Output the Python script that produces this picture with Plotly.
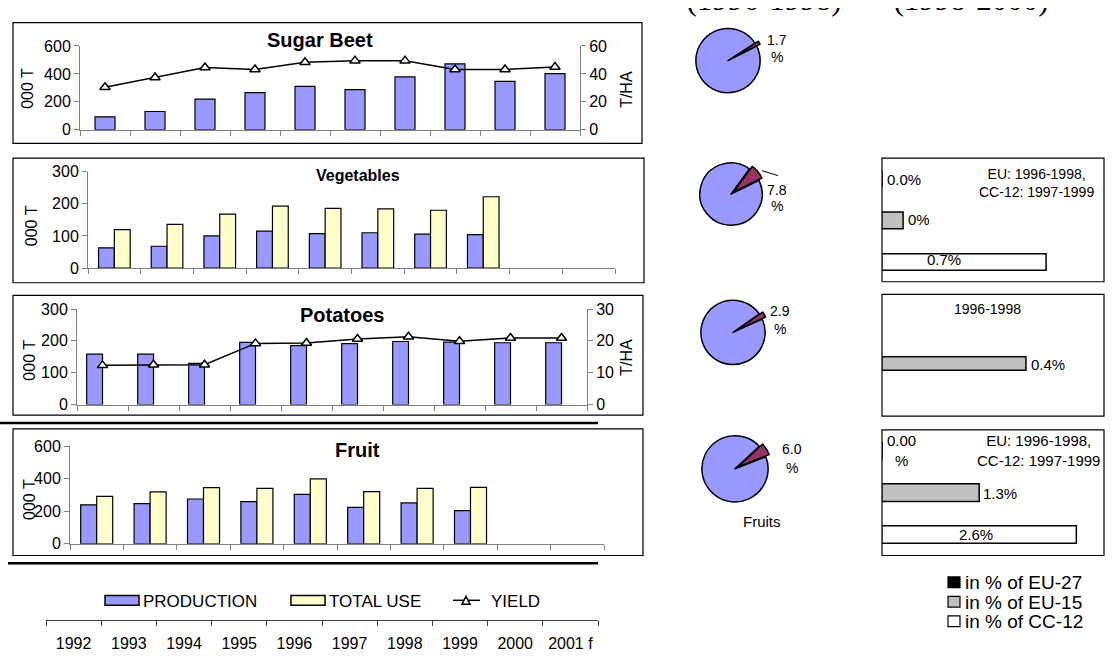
import plotly.graph_objects as go

W, H = 1116, 659
def fx(x): return x / W
def fy(y): return 1 - y / H

# ---------------- data ----------------
years = ["1992", "1993", "1994", "1995", "1996", "1997", "1998", "1999", "2000", "2001 f"]

sugar_prod = [93, 131, 220, 266, 311, 287, 379, 472, 346, 402]
sugar_yield = [30.4, 37.4, 44.6, 43.2, 48.4, 49.5, 49.5, 43.2, 43.2, 45.0]

veg_prod = [63, 68, 100, 115, 107, 110, 106, 104, None, None]
veg_use = [120, 136, 168, 193, 186, 184, 180, 222, None, None]

pot_prod = [158, 158, 129, 195, 185, 191, 198, 196, 194, 194]
pot_yield = [12.3, 12.5, 12.5, 19.2, 19.3, 20.6, 21.3, 19.9, 20.9, 20.9]

fruit_prod = [240, 248, 276, 260, 304, 224, 252, 204, None, None]
fruit_use = [292, 320, 346, 342, 400, 322, 342, 348, None, None]

pie_shares = {"sugar": 1.7, "veg": 7.8, "pot": 2.9, "fruit": 6.0}

ref_groups = ["EU-27", "EU-15", "CC-12"]
veg_ref = [0.0, 0.09, 0.7]
pot_groups = ["EU-15"]
pot_ref = [0.4]
fruit_ref = [0.0, 1.3, 2.6]

header_labels = ["(1996-1998)", "(1998-2000)"]

# ---------------- style ----------------
FONT = "Arial, Liberation Sans, sans-serif"
SERIF = "Times New Roman, Liberation Serif, serif"
PROD_C = "#9999FF"
USE_C = "#FFFFCC"
SLICE_C = "#993366"
AXC = "#808080"
REF_C = {"EU-27": "#000000", "EU-15": "#C0C0C0", "CC-12": "#FFFFFF"}
BAR_LINE = dict(color="black", width=1.2)

fig = go.Figure()

def add_yield(y, xa, ya):
    fig.add_scatter(x=years, y=y, xaxis=xa, yaxis=ya, mode="lines+markers",
                    line=dict(color="black", width=1.5),
                    marker=dict(symbol="triangle-up", size=9, color="white",
                                line=dict(color="black", width=1.5)),
                    hoverinfo="skip", showlegend=False)

# Sugar beet
fig.add_bar(x=years, y=sugar_prod, xaxis="x", yaxis="y", width=0.4, offset=-0.2,
            marker=dict(color=PROD_C, line=BAR_LINE), showlegend=False, hoverinfo="skip")
add_yield(sugar_yield, "x", "y2")

# Vegetables
fig.add_bar(x=years, y=veg_prod, xaxis="x3", yaxis="y3", width=0.3, offset=-0.3,
            marker=dict(color=PROD_C, line=BAR_LINE), showlegend=False, hoverinfo="skip")
fig.add_bar(x=years, y=veg_use, xaxis="x3", yaxis="y3", width=0.3, offset=0.0,
            marker=dict(color=USE_C, line=BAR_LINE), showlegend=False, hoverinfo="skip")

# Potatoes
fig.add_bar(x=years, y=pot_prod, xaxis="x4", yaxis="y4", width=0.31, offset=-0.31,
            marker=dict(color=PROD_C, line=BAR_LINE), showlegend=False, hoverinfo="skip")
add_yield(pot_yield, "x4", "y5")

# Fruit
fig.add_bar(x=years, y=fruit_prod, xaxis="x6", yaxis="y6", width=0.3, offset=-0.3,
            marker=dict(color=PROD_C, line=BAR_LINE), showlegend=False, hoverinfo="skip")
fig.add_bar(x=years, y=fruit_use, xaxis="x6", yaxis="y6", width=0.3, offset=0.0,
            marker=dict(color=USE_C, line=BAR_LINE), showlegend=False, hoverinfo="skip")

# bottom year axis (invisible carrier)
fig.add_scatter(x=years, y=[0.5] * len(years), xaxis="x7", yaxis="y7", mode="markers",
                marker=dict(size=1, opacity=0), hoverinfo="skip", showlegend=False)

# reference share bars
def ref_bar(groups, vals, xa, ya, width):
    fig.add_bar(y=groups, x=vals, orientation="h", xaxis=xa, yaxis=ya, width=width,
                marker=dict(color=[REF_C[g] for g in groups], line=dict(color="black", width=1.5)),
                showlegend=False, hoverinfo="skip")

ref_bar(ref_groups, veg_ref, "x8", "y8", 0.4)
ref_bar(pot_groups, pot_ref, "x9", "y9", 0.33)
ref_bar(ref_groups, fruit_ref, "x10", "y10", 0.42)

# header strip, clipped at the top edge as in the original
fig.add_scatter(x=header_labels, y=[16, 16], xaxis="x11", yaxis="y11", mode="text",
                text=header_labels, textposition="middle center", cliponaxis=True,
                textfont=dict(family=SERIF, size=31, color="black"),
                hoverinfo="skip", showlegend=False)

# pies
def add_pie(share, cx, cy, r, rot, pull):
    s = r * (1 + pull)
    fig.add_pie(values=[share, 100 - share], labels=["share", "rest"], sort=False,
                direction="clockwise", rotation=rot, pull=[pull, 0],
                marker=dict(colors=[SLICE_C, PROD_C], line=dict(color="black", width=1.5)),
                textinfo="none", hoverinfo="skip", showlegend=False,
                domain=dict(x=[fx(cx - s), fx(cx + s)], y=[fy(cy + s), fy(cy - s)]))

add_pie(pie_shares["sugar"], 728, 54, 33, 57, 0.12)
add_pie(pie_shares["veg"], 731, 191, 32, 36, 0.12)
add_pie(pie_shares["pot"], 733, 333, 33, 55, 0.12)
add_pie(pie_shares["fruit"], 735, 473, 34, 47, 0.12)

# ---------------- axes ----------------
def xcat(x0, x1, anchor):
    return dict(domain=[fx(x0), fx(x1)], anchor=anchor, type="category",
                categoryorder="array", categoryarray=years, range=[-0.5, 9.5],
                showline=True, linecolor=AXC, linewidth=1, ticks="outside", tickson="boundaries",
                ticklen=5, tickcolor=AXC, showticklabels=False, showgrid=False, zeroline=False,
                fixedrange=True)

def yval(y0, y1, rng, dtick, anchor):
    return dict(domain=[fy(y1), fy(y0)], anchor=anchor, range=rng, dtick=dtick, tick0=0,
                showline=True, linecolor=AXC, linewidth=1, ticks="outside", ticklen=5,
                tickcolor=AXC, tickfont=dict(size=16, color="black", family=FONT),
                showgrid=False, zeroline=False, fixedrange=True)

def yright(rng, dtick, over, anchor):
    return dict(overlaying=over, anchor=anchor, side="right", range=rng, dtick=dtick, tick0=0,
                showline=True, linecolor=AXC, linewidth=1, ticks="outside", ticklen=5,
                tickcolor=AXC, tickfont=dict(size=16, color="black", family=FONT),
                showgrid=False, zeroline=False, fixedrange=True)

def hidden_x(rng, anchor):
    return dict(domain=[fx(882), fx(1104)], anchor=anchor, range=rng, visible=False, fixedrange=True)

def hidden_ycat(y0, y1, cats, anchor):
    n = len(cats)
    return dict(domain=[fy(y1), fy(y0)], anchor=anchor, type="category", categoryorder="array",
                categoryarray=cats, range=[n - 0.5, -0.5], visible=False, fixedrange=True)

layout = dict(
    width=W, height=H, margin=dict(l=0, r=0, t=0, b=0),
    paper_bgcolor="white", plot_bgcolor="rgba(0,0,0,0)",
    font=dict(family=FONT, color="black"), barmode="overlay", showlegend=False,
    xaxis=xcat(80, 580, "y"), yaxis=yval(39, 125, [0, 600], 200, "x"),
    yaxis2=yright([0, 60], 20, "y", "x"),
    xaxis3=xcat(88, 615, "y3"), yaxis3=yval(168, 267, [0, 300], 100, "x3"),
    xaxis4=xcat(77, 587, "y4"), yaxis4=yval(309, 407, [0, 300], 100, "x4"),
    yaxis5=yright([0, 30], 10, "y4", "x4"),
    xaxis6=xcat(70, 604, "y6"), yaxis6=yval(450, 550, [0, 600], 200, "x6"),
    xaxis7=dict(domain=[fx(46), fx(598)], anchor="y7", type="category", categoryorder="array",
                categoryarray=years, range=[-0.5, 9.5], showline=True, linecolor="#404040",
                ticks="outside", tickson="boundaries", ticklen=5, tickcolor="#404040",
                ticklabelstandoff=9, tickangle=0,
                tickfont=dict(size=16, color="black"), showgrid=False, zeroline=False,
                fixedrange=True),
    yaxis7=dict(domain=[fy(628), fy(620)], anchor="x7", range=[0, 1], visible=False, fixedrange=True),
    xaxis8=hidden_x([0, 0.947], "y8"), yaxis8=hidden_ycat(154, 282, ref_groups, "x8"),
    xaxis9=hidden_x([0, 0.617], "y9"), yaxis9=hidden_ycat(344, 386, pot_groups, "x9"),
    xaxis10=hidden_x([0, 2.97], "y10"), yaxis10=hidden_ycat(433, 562, ref_groups, "x10"),
    xaxis11=dict(domain=[fx(660.5), fx(1074.5)], anchor="y11", type="category",
                 categoryorder="array", categoryarray=header_labels, range=[-0.5, 1.5],
                 visible=False, fixedrange=True),
    yaxis11=dict(domain=[fy(10), 1], anchor="x11", range=[0, 10], visible=False, fixedrange=True),
)
fig.update_layout(**layout)

# ---------------- shapes ----------------
shapes = []
def rect(x0, y0, x1, y1, fill="rgba(0,0,0,0)", lw=1.2, lc="black"):
    shapes.append(dict(type="rect", xref="paper", yref="paper", x0=fx(x0), x1=fx(x1),
                       y0=fy(y1), y1=fy(y0), line=dict(color=lc, width=lw), fillcolor=fill,
                       layer="below"))
def hline(x0, x1, y, w=2.5, c="black"):
    shapes.append(dict(type="line", xref="paper", yref="paper", x0=fx(x0), x1=fx(x1),
                       y0=fy(y), y1=fy(y), line=dict(color=c, width=w)))

rect(13, 15, 642, 139)
rect(13, 154, 644, 282)
rect(13, 295, 643, 418)
rect(13, 432, 643, 562)
rect(882, 154, 1104, 281)
rect(882, 294, 1104, 419)
rect(882, 433, 1104, 562)
hline(0, 598, 426)
hline(8, 598, 570)

# leader line vegetables pie
shapes.append(dict(type="line", xref="paper", yref="paper", x0=fx(762), x1=fx(778),
                   y0=fy(167), y1=fy(172), line=dict(color="black", width=1)))

# legend swatches
rect(105, 603, 139, 613, fill=PROD_C, lw=1.5)
rect(291, 603, 325, 613, fill=USE_C, lw=1.5)
hline(453, 480, 608, w=1.5)
shapes.append(dict(type="path", xref="paper", yref="paper",
                   path=f"M {fx(462)} {fy(612)} L {fx(466)} {fy(604)} L {fx(470)} {fy(612)} Z",
                   fillcolor="white", line=dict(color="black", width=1.5)))
rect(948, 584, 960, 595, fill="#000000", lw=1.2)
rect(948, 604, 960, 615, fill="#C0C0C0", lw=1.2)
rect(948, 624, 960, 635, fill="#FFFFFF", lw=1.2)

fig.update_layout(shapes=shapes)

# ---------------- annotations ----------------
ann = []
def text(t, x, y, size=15, bold=False, angle=0, xanchor="center", family=FONT, yanchor="middle"):
    ann.append(dict(text=f"<b>{t}</b>" if bold else t, x=fx(x), y=fy(y), xref="paper", yref="paper",
                    showarrow=False, xanchor=xanchor, yanchor=yanchor, textangle=angle,
                    font=dict(size=size, family=family, color="black")))

# panel titles
text("Sugar Beet", 320, 33, size=20, bold=True)
text("Vegetables", 358, 172, size=16, bold=True)
text("Potatoes", 342, 315, size=20, bold=True)
text("Fruit", 358, 454, size=20, bold=True)

# axis titles
text("000 T", 28, 83, size=16, angle=-90)
text("T/HA", 627, 83, size=16, angle=-90)
text("000 T", 31, 224, size=16, angle=-90)
text("000 T", 30, 362, size=16, angle=-90)
text("T/HA", 627, 358, size=16, angle=-90)
text("000 T", 30, 505, size=16, angle=-90)

# pie labels
text("1.7", 777, 33, size=14)
text("%", 777, 50, size=14)
text("7.8", 777, 187, size=14)
text("%", 777, 203, size=14)
text("2.9", 780, 311, size=14)
text("%", 780, 330, size=14)
text("6.0", 792, 453, size=14)
text("%", 792, 472, size=14)
text("Fruits", 762, 527, size=15)

# share panels
text("0.0%", 904, 176, size=15)
text("EU: 1996-1998,<br>CC-12: 1997-1999", 1036, 180, size=14)
text("0%", 919, 217, size=15)
text("0.7%", 944, 258, size=15)
text("1996-1998", 987, 309, size=14)
text("0.4%", 1048, 366, size=15)
text("0.00<br>%", 901, 454, size=15)
text("EU: 1996-1998,<br>CC-12: 1997-1999", 1038, 454, size=15)
text("1.3%", 1000, 498, size=15)
text("2.6%", 976, 540, size=15)

# legends
text("PRODUCTION", 141, 609, size=17, xanchor="left")
text("TOTAL USE", 327, 609, size=17, xanchor="left")
text("YIELD", 489, 609, size=17, xanchor="left")
text("in % of EU-27", 963, 590, size=19, xanchor="left")
text("in % of EU-15", 963, 610, size=19, xanchor="left")
text("in % of CC-12", 963, 630, size=19, xanchor="left")

fig.update_layout(annotations=ann)

fig.write_html("out.html", config={"displayModeBar": False},
               post_script="document.body.style.margin='0';document.body.style.overflow='hidden';")
